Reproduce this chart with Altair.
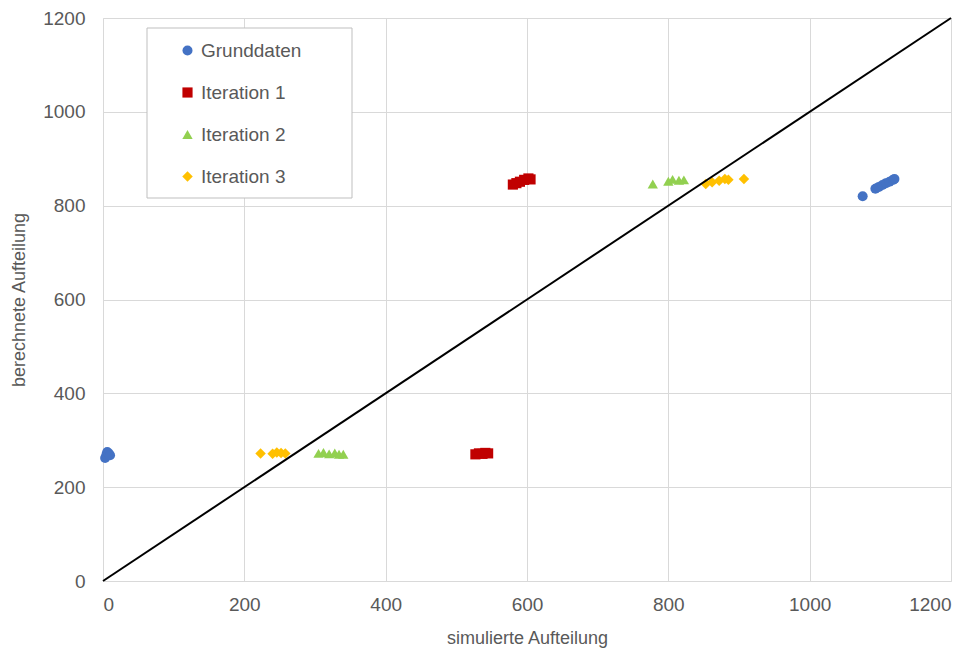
import altair as alt
import pandas as pd

# Scatter series: (simulierte Aufteilung, berechnete Aufteilung)
grund_x = [3, 5, 6, 8, 10, 1075, 1093, 1098, 1103, 1108, 1113, 1118, 1120]
grund_y = [262, 270, 275, 272, 268, 820, 836, 840, 844, 848, 851, 855, 857]

iter1_x = [527, 532, 537, 541, 545, 580, 585, 590, 596, 602, 605]
iter1_y = [270, 272, 271, 273, 272, 845, 848, 851, 855, 858, 856]

iter2_x = [305, 312, 320, 328, 334, 340, 778, 800, 806, 815, 822]
iter2_y = [272, 274, 271, 273, 270, 270, 846, 852, 856, 854, 855]

iter3_x = [223, 240, 246, 252, 258, 853, 862, 872, 880, 885, 907]
iter3_y = [272, 271, 274, 273, 272, 846, 850, 853, 857, 855, 857]

series_names = ["Grunddaten", "Iteration 1", "Iteration 2", "Iteration 3"]
series_colors = ["#4472C4", "#C00000", "#92D050", "#FFC000"]
series_shapes = ["circle", "square", "triangle-up", "diamond"]

diag_x = [0, 1200]
diag_y = [0, 1200]

ticks = [0, 200, 400, 600, 800, 1000, 1200]

rows = []
for name, xs, ys in zip(series_names,
                        [grund_x, iter1_x, iter2_x, iter3_x],
                        [grund_y, iter1_y, iter2_y, iter3_y]):
    for x, y in zip(xs, ys):
        rows.append({"sim": x, "ber": y, "Serie": name})
points_df = pd.DataFrame(rows)
diag_df = pd.DataFrame({"sim": diag_x, "ber": diag_y})

FONT = "Liberation Sans"
GREY = "#595959"

x_scale = alt.Scale(domain=[0, 1200], nice=False, zero=False)
y_scale = alt.Scale(domain=[0, 1200], nice=False, zero=False)

x_axis = alt.Axis(values=ticks, format="d", title="simulierte Aufteilung",
                  grid=True, labelPadding=14, titlePadding=15)
y_axis = alt.Axis(values=ticks, format="d", title="berechnete Aufteilung",
                  grid=True, labelPadding=18, titlePadding=14)

points = alt.Chart(points_df).mark_point(filled=True, opacity=1).encode(
    x=alt.X("sim:Q", scale=x_scale, axis=x_axis),
    y=alt.Y("ber:Q", scale=y_scale, axis=y_axis),
    color=alt.Color("Serie:N",
                    scale=alt.Scale(domain=series_names, range=series_colors),
                    legend=alt.Legend(title=None, orient="none",
                                      legendX=63, legendY=11,
                                      padding=12, rowPadding=22,
                                      labelFontSize=19, labelFont=FONT,
                                      labelColor=GREY, symbolSize=70,
                                      labelOffset=4)),
    shape=alt.Shape("Serie:N",
                    scale=alt.Scale(domain=series_names, range=series_shapes),
                    legend=None),
    size=alt.Size("Serie:N",
                  scale=alt.Scale(domain=series_names, range=[100, 110, 130, 80]),
                  legend=None),
)

diag = alt.Chart(diag_df).mark_line(color="black", strokeWidth=2).encode(
    x=alt.X("sim:Q", scale=x_scale),
    y=alt.Y("ber:Q", scale=y_scale),
)

# frame around the legend
legend_frame = alt.Chart(pd.DataFrame({"k": [0]})).mark_rect(
    fill="white", stroke="#BFBFBF", strokeWidth=1
).encode(
    x=alt.value(44), x2=alt.value(249), y=alt.value(10), y2=alt.value(180)
)

chart = alt.layer(legend_frame, points, diag).properties(
    width=848, height=563,
    padding={"left": 103, "top": 18, "right": 29, "bottom": 74},
    autosize=alt.AutoSizeParams(type="none"),
).configure_view(stroke=None).configure_axis(
    gridColor="#D9D9D9", domainColor="#D9D9D9", ticks=False,
    labelFont=FONT, titleFont=FONT, labelFontSize=19, titleFontSize=18,
    labelColor=GREY, titleColor=GREY, titleFontWeight="normal",
)

chart.save("out.html", embed_options={"renderer": "svg", "actions": False})
